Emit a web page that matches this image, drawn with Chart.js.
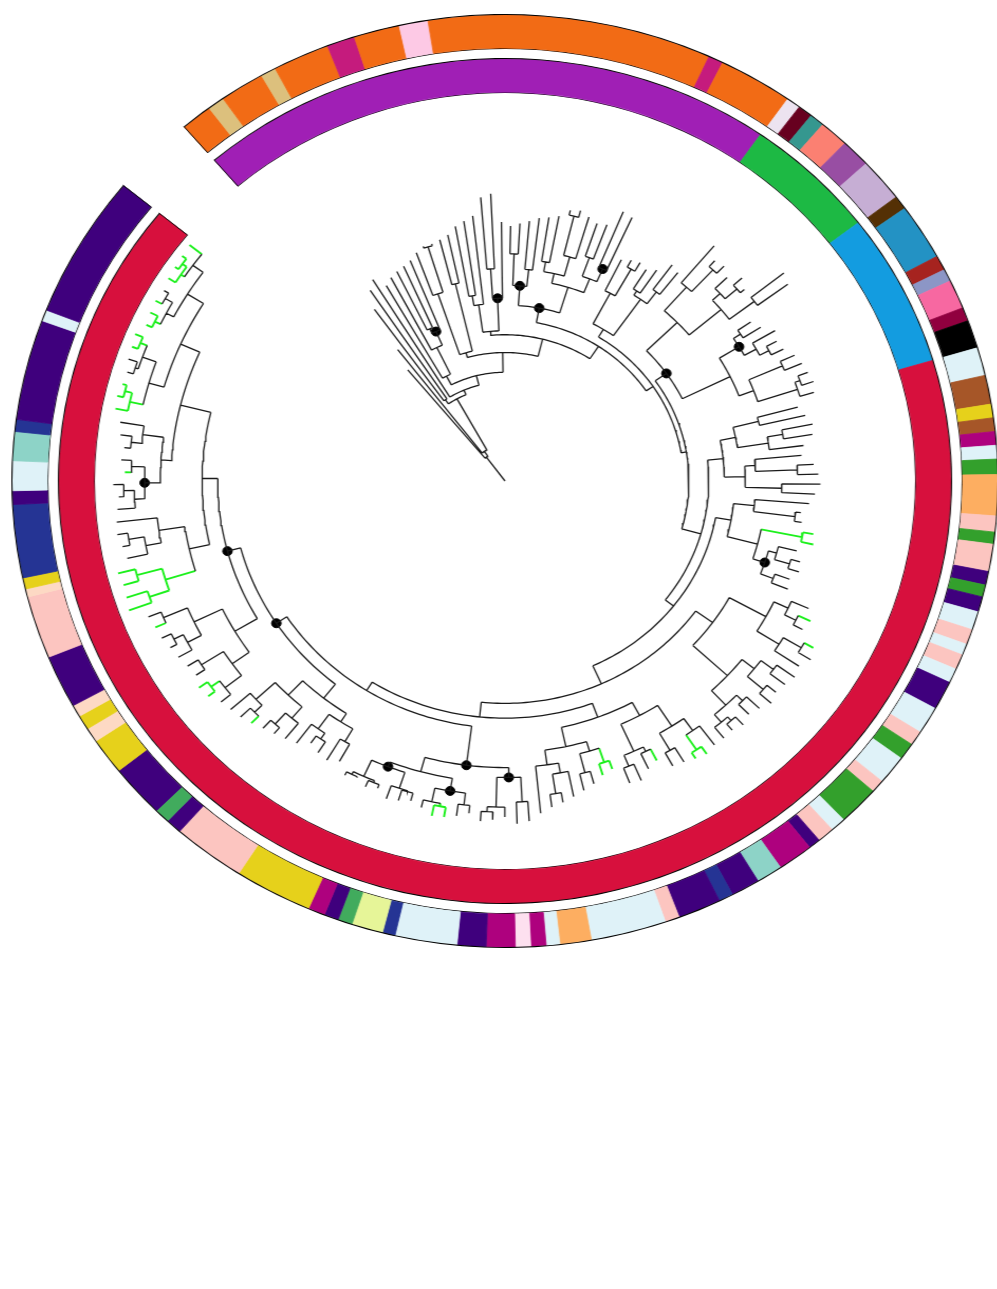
<!DOCTYPE html>
<html>
<head>
<meta charset="utf-8">
<script src="https://cdn.jsdelivr.net/npm/chart.js"></script>
<style>
  body { margin: 0; background: #fff; width: 997px; height: 1289px; overflow: hidden; }
  #wrap { position: absolute; left: 38px; top: 14px; width: 934px; height: 934px;
          transform: scaleX(1.057); transform-origin: 50% 50%; }
  #wrap canvas { position: absolute; left: 0; top: 0; }
</style>
</head>
<body>
<div id="wrap">
  <canvas id="rings" width="934" height="934"></canvas>
  <canvas id="tree" width="934" height="934"></canvas>
</div>
<script>
// ---- ring data (degrees of arc per block, clockwise from the gap) ----
const ringStart = -40.6;
const ringSpan = 349.9;

const outerCats = ['or','ta','or','ta','or','mg','or','pk','or','mg','or','lv','dr','te','sa','pu','lp','db','sb','rr',
  'lb','hp','ma','bk','cy','br','ye','br','pm','cy','gr','pe','ro','gr','ro','in','gr','in','cy','ro',
  'cy','ro','cy','in','cy','ro','gr','cy','ro','gr','cy','ro','in','pm','aq','in','nv','in','ro','cy',
  'pe','cy','pm','lk','pm','in','cy','nv','yg','g2','in','pm','ye','ro','in','g2','in','ye','lt','ye',
  'lt','in','ro','lt','ye','nv','in','cy','aq','nv','in','cy','in'];
const outerSpans = [3.7,2.0,5.3,1.8,6.7,3.3,5.4,3.4,33.45,1.75,8.8,1.66,1.74,1.75,3.45,3.5,5.4,1.7,7.0,1.85,
  1.55,3.6,1.7,3.5,3.5,3.6,1.7,1.7,1.7,1.7,1.9,5.1,2.0,1.5,3.4,1.7,1.5,1.9,2.3,1.9,
  1.4,1.9,1.8,3.6,3.4,1.8,2.1,3.6,1.6,4.9,1.8,2.0,1.4,4.2,3.1,3.4,1.7,5.1,1.7,8.9,
  3.7,1.6,1.8,1.8,3.4,3.4,7.3,1.5,3.7,1.7,1.7,2.0,9.2,8.6,1.9,1.8,6.6,4.5,1.8,1.8,
  1.5,6.6,7.8,1.0,1.4,9.1,1.7,3.7,3.6,1.5,12.5,1.4,17.8];

const innerCats = ['cladeP','cladeG','cladeB','cladeR'];
const innerSpans = [75.5, 17.4, 21.1, 235.9];

const palette = {
  or:'#f26b15', ta:'#dcc07d', mg:'#c51b7d', pk:'#fdc9e5', lv:'#ece3f0', dr:'#67001f', te:'#35978f',
  sa:'#fb8072', pu:'#984ea3', lp:'#c6aed4', db:'#543005', sb:'#2392c4', rr:'#a6231f', lb:'#8c96c6',
  hp:'#f768a1', ma:'#91003f', bk:'#000000', cy:'#dff2f8', br:'#a65628', ye:'#e6d11b', pm:'#ae017e',
  gr:'#33a02c', pe:'#fdae61', ro:'#fcc5c0', in:'#3f007d', aq:'#8dd3c7', nv:'#253494', lk:'#fde0ef',
  yg:'#e6f598', g2:'#41ab5d', lt:'#fdd9c4',
  cladeP:'#a01fb5', cladeG:'#1db944', cladeB:'#139ce0', cladeR:'#d7103d'
};

// ---- tree data: clades hung along the backbone, numbers = distance from root ----
const ladderClades = [
  ':146', ':168', '(:214,:232):100', ':240',
  '(:228,(:233,((:236,:238):170,:241)d:165):150):120',
  '((:246,(:250,:250):248):200,(:252,:255):205):135',
  '(((:262,:266):190,:270):180,((:288,:291):215,:262)d:185):152',
  '(((:258,:261):230,(:264,:268):215)d:198,(((:270,:273):225,((:281,:283):276,:279):235):215,((:275,:277):240,(:295,:293)d:234):220):205)d:178',
  '((:250,(:254,:256):246):215,((:253,:258):230,(:271,:268):240):225):180',
  '(((:311,(:300,:302):292):262,((:296,(:306,:300):295):280,(:340,:336):300):270):230,(((:285,:290):270,(:300,(:296,:298):285):275)d:262,((:305,:308):290,((:310,:312):300,:309):295):255):240)d:189',
  '(((:290,:295):250,((:300,:298):270,:288):255):225,((:285,(:296,:300):280):240,(:302,:297):265):230):210',
  '((:292,(:285,:287):280):240,((g:300,g:302)g:290,((:288,(:294,:296):285):270,(:290,:292):275)d:262):250):220',
  '(((:318,(g:325,:322):312):300,((g:340,:344):330,:338):310):285,(((:341,:338):320,(:336,:340):325):305,((:335,:332):318,((:336,:333):325,:334):320):310):290):245',
  '((((:334,(g:337,g:335)g:328):310,(:332,:330):315):295,((g:318,:322):305,(:330,:328):312):300):270,(((g:309,g:312)g:300,(:318,:322):305):285,((:326,(:330,:333):320):300,:338):290):275):255',
  '(((:345,:347):325,(:340,(:343,:345):335):330)d:300,(((:338,:342):330,((g:345,g:346)g:335,:340):332)d:318,(((:336,:339):328,:341):327,((:334,:337):330,(:332,:335):331):328)d:310):305)d:290',
  '(((:325,:330):305,((:328,:324):315,:332):308):290,((:335,(:338,:341):330):315,((g:345,:348):335,:350):325):300):280',
  '(((:352,(g:358,g:360)g:350):340,(:355,:357):345):320,((:360,(:362,:365):355):345,(g:366,:368):355):330):300',
  '(((g:383,g:381)g:360,(g:380,g:382)g:365)g:340,((:370,(:372,:375):365):350,:374):335):310',
  '((((:372,(:370,:375):365):355,(g:364,:368):358)d:345,((:366,:371):360,:373):350):330,(((g:380,(g:381,g:379)g:375)g:368,((:378,:381):372,(g:382,g:384)g:376):369):355,(((g:378,g:380)g:372,(g:381,:379):374):366,((g:382,(g:383,g:384)g:379)g:374,g:385):370):358):340):320'
];
const ladderDepths = [30, 36, 95, 100, 110, 130, 148, 163, 171, 176, 195, 205, 225, 240, 250, 262, 275, 290];
const ladderDots = [15, 16];

// ---- build and lay out the tree ----
function buildLadder() {
  let s = ladderClades[ladderClades.length - 1];
  for (let i = ladderClades.length - 2; i >= 0; i--) {
    s = '(' + ladderClades[i] + ',' + s + ')' + (ladderDots.includes(i) ? 'd' : '') + ':' + ladderDepths[i];
  }
  return s;
}

function parseTree(str) {
  let pos = 0;
  function node() {
    const n = { children: [], label: '', depth: 0 };
    if (str[pos] === '(') {
      pos++;
      n.children.push(node());
      while (str[pos] === ',') { pos++; n.children.push(node()); }
      pos++;
    }
    while (pos < str.length && /[a-z]/.test(str[pos])) n.label += str[pos++];
    if (str[pos] === ':') {
      pos++;
      let num = '';
      while (pos < str.length && /[0-9.]/.test(str[pos])) num += str[pos++];
      n.depth = parseFloat(num);
    }
    return n;
  }
  return node();
}

const root = parseTree(buildLadder());

function countLeaves(n) { return n.children.length ? n.children.reduce((a, c) => a + countLeaves(c), 0) : 1; }
const nLeaves = countLeaves(root);
const leafStep = ringSpan / nLeaves;
const leafStart = 360 + ringStart;
let leafIdx = 0;
function layout(n) {
  if (!n.children.length) { n.angle = leafStart + leafStep * (leafIdx++ + 0.5); return; }
  n.children.forEach(layout);
  n.angle = n.children.reduce((a, c) => a + c.angle, 0) / n.children.length;
}
layout(root);

function polar(r, a) {
  const t = a * Math.PI / 180;
  return { x: r * Math.sin(t), y: r * Math.cos(t) };
}

const blackPts = [], greenPts = [], dotPts = [];
function walk(n, parent) {
  const target = n.label.includes('g') ? greenPts : blackPts;
  target.push(polar(parent.depth, n.angle), polar(n.depth, n.angle), { x: null, y: null });
  if (n.children.length) {
    const a0 = Math.min(...n.children.map(c => c.angle));
    const a1 = Math.max(...n.children.map(c => c.angle));
    const steps = Math.max(2, Math.ceil(a1 - a0));
    for (let k = 0; k <= steps; k++) target.push(polar(n.depth, a0 + (a1 - a0) * k / steps));
    target.push({ x: null, y: null });
    n.children.forEach(c => walk(c, n));
  }
  if (n.label.includes('d')) dotPts.push(polar(n.depth, n.angle));
}
walk(root, { depth: 0 });

// ---- rings (doughnut) ----
const capPlugin = {
  id: 'caps',
  afterDatasetsDraw(chart) {
    const ctx = chart.ctx;
    [[0, 2], [4, 6]].forEach(([a, b]) => {
      const o = chart.getDatasetMeta(a).data[0];
      const i = chart.getDatasetMeta(b).data[0];
      [o.startAngle, o.endAngle].forEach(ang => {
        ctx.beginPath();
        ctx.moveTo(o.x + Math.cos(ang) * o.outerRadius, o.y + Math.sin(ang) * o.outerRadius);
        ctx.lineTo(o.x + Math.cos(ang) * i.innerRadius, o.y + Math.sin(ang) * i.innerRadius);
        ctx.strokeStyle = '#000';
        ctx.lineWidth = 1;
        ctx.stroke();
      });
    });
  }
};

const outerColors = outerCats.map(c => palette[c]);
const innerColors = innerCats.map(c => palette[c]);
const lineRing = w => ({ data: [ringSpan], backgroundColor: ['#000'], borderWidth: 0, weight: w });

new Chart(document.getElementById('rings'), {
  type: 'doughnut',
  data: {
    labels: outerCats,
    datasets: [
      lineRing(1),
      { data: outerSpans, backgroundColor: outerColors, borderColor: outerColors, borderWidth: 0.8, weight: 33 },
      lineRing(1),
      { data: [ringSpan], backgroundColor: ['rgba(0,0,0,0)'], borderWidth: 0, weight: 9 },
      lineRing(1),
      { data: innerSpans, backgroundColor: innerColors, borderColor: innerColors, borderWidth: 0.8, weight: 33 },
      lineRing(1)
    ]
  },
  options: {
    responsive: false,
    animation: false,
    events: [],
    rotation: ringStart,
    circumference: ringSpan,
    radius: 467,
    cutout: (388 / 467 * 100) + '%',
    plugins: { legend: { display: false }, tooltip: { enabled: false } }
  },
  plugins: [capPlugin]
});

// ---- tree (scatter lines) ----
new Chart(document.getElementById('tree'), {
  type: 'scatter',
  data: {
    datasets: [
      { data: blackPts, showLine: true, spanGaps: false, borderColor: '#1a1a1a', borderWidth: 1.3, pointRadius: 0 },
      { data: greenPts, showLine: true, spanGaps: false, borderColor: '#1cf01c', borderWidth: 1.9, pointRadius: 0 },
      { data: dotPts, showLine: false, pointRadius: 4.5, backgroundColor: '#000', borderColor: '#000' }
    ]
  },
  options: {
    responsive: false,
    animation: false,
    events: [],
    layout: { padding: 0 },
    scales: {
      x: { type: 'linear', min: -467, max: 467, display: false },
      y: { type: 'linear', min: -467, max: 467, display: false }
    },
    plugins: { legend: { display: false }, tooltip: { enabled: false } }
  }
});
</script>
</body>
</html>
